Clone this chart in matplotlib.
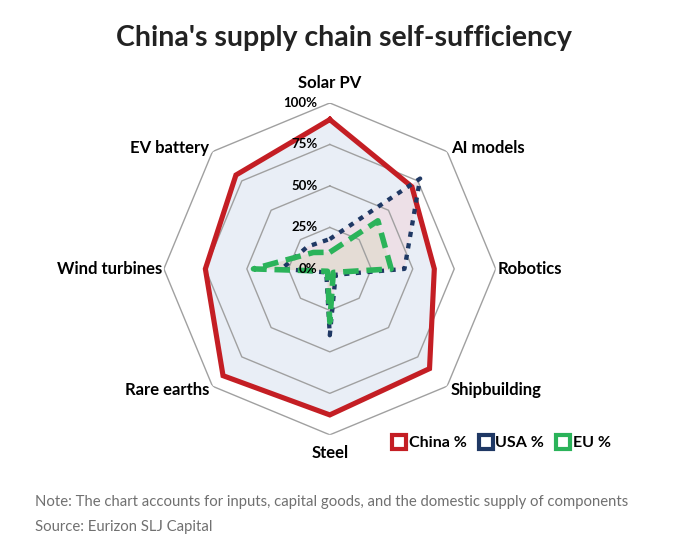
import numpy as np
import matplotlib
matplotlib.use("Agg")
import matplotlib.pyplot as plt
from matplotlib.lines import Line2D

# data (percent self-sufficiency)
categories = ['Solar PV', 'AI models', 'Robotics', 'Shipbuilding',
              'Steel', 'Rare earths', 'Wind turbines', 'EV battery']
china = [90, 70, 63, 85, 88, 91, 75, 80]
usa = [18, 77, 45, 5, 40, 3, 29, 19]
eu = [10, 41, 37, 3, 32, 2, 46, 14]
levels = [25, 50, 75, 100]
level_labels = ['0%', '25%', '50%', '75%', '100%']

red = '#c41e24'
navy = '#1f3864'
green = '#2bb35a'

plt.rcParams['font.family'] = ['Lato', 'DejaVu Sans']

fig = plt.figure(figsize=(6.8, 5.49), dpi=100)
ax = fig.add_axes([0.241, 0.2077, 0.488, 0.605], projection='polar')
ax.set_theta_zero_location('N')
ax.set_theta_direction(-1)
ax.set_ylim(0, 100)
ax.axis('off')

n = len(categories)
angles = np.linspace(0, 2 * np.pi, n, endpoint=False)
closed = np.append(angles, angles[0])


def close(vals):
    return list(vals) + [vals[0]]


# fills
ax.fill(closed, close(china), color='#e9eef6', zorder=1, lw=0)
ax.fill(closed, close(usa), color='#eedfe6', alpha=0.9, zorder=1.1, lw=0)
ax.fill(closed, close(eu), color='#e3dcd3', alpha=0.9, zorder=1.2, lw=0)

# octagon grid
for lv in levels:
    ax.plot(closed, [lv] * (n + 1), color='#a0a0a0', lw=1, zorder=2)

# series lines
ax.plot(closed, close(china), color=red, lw=3.7, zorder=3,
        solid_joinstyle='miter')
ax.plot(closed, close(usa), color=navy, lw=3.1, zorder=4,
        linestyle=(0, (1.2, 1.5)))
ax.plot(closed, close(eu), color=green, lw=4.0, zorder=5,
        linestyle=(0, (2.8, 1.4)))

# percentage labels left of the vertical axis
for lv, lab in zip([0] + levels, level_labels):
    ax.annotate(lab, xy=(0, lv), xytext=(-9, 0), textcoords='offset points',
                ha='right', va='center', fontsize=9.5, fontweight='bold',
                zorder=6)

# category labels
label_pos = [(112, 'center', 'center'), (103, 'left', 'center'),
             (101, 'left', 'center'), (103, 'left', 'center'),
             (111, 'center', 'center'), (103, 'right', 'center'),
             (101, 'right', 'center'), (103, 'right', 'center')]
for a, cat, (r, ha, va) in zip(angles, categories, label_pos):
    ax.text(a, r, cat, ha=ha, va=va, fontsize=12, fontweight='bold')

# legend
handles = [Line2D([], [], ls='none', marker='s', ms=10, mfc='white',
                  mec=c, mew=3) for c in (red, navy, green)]
fig.legend(handles, ['China %', 'USA %', 'EU %'], ncol=3, frameon=False,
           loc='center', bbox_to_anchor=(0.738, 0.193), handlelength=0.8,
           handletextpad=0.2, columnspacing=0.8,
           prop={'weight': 'bold', 'size': 11.5})

fig.text(0.506, 0.931, "China's supply chain self-sufficiency", ha='center',
         va='center', fontsize=20.5, fontweight='bold', color='#222222')
fig.text(0.052, 0.086, 'Note: The chart accounts for inputs, capital goods, '
         'and the domestic supply of components', ha='left', va='center',
         fontsize=10.7, color='#707070')
fig.text(0.052, 0.040, 'Source: Eurizon SLJ Capital', ha='left', va='center',
         fontsize=10.7, color='#707070')

fig.savefig('out.png', dpi=100)
